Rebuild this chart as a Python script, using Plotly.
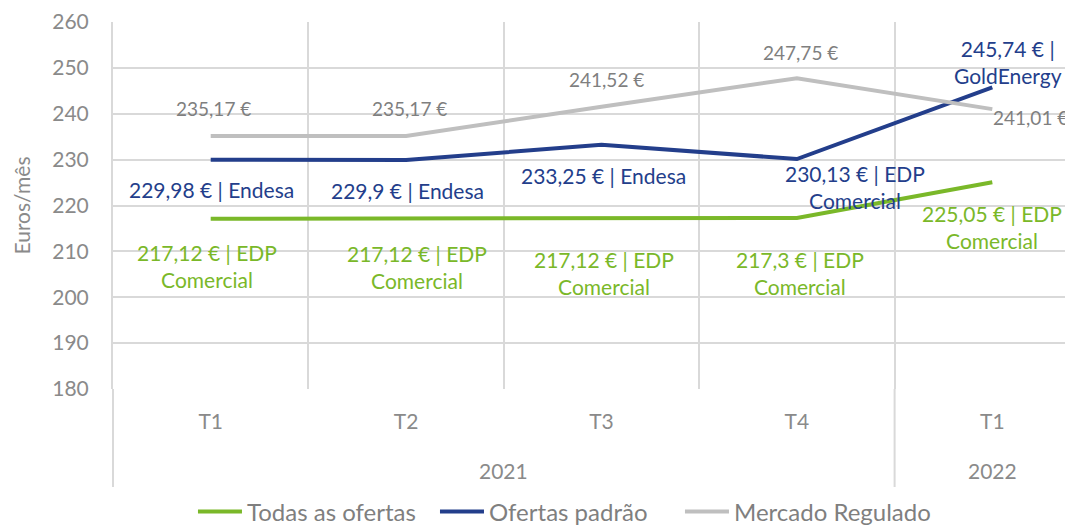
import plotly.graph_objects as go

# ---- data ----
years = ["2021", "2021", "2021", "2021", "2022"]
quarters = ["T1", "T2", "T3", "T4", "T1"]
todas = [217.12, 217.12, 217.12, 217.3, 225.05]
padrao = [229.98, 229.9, 233.25, 230.13, 245.74]
regulado = [235.17, 235.17, 241.52, 247.75, 241.01]
todas_comerc = ["EDP Comercial", "EDP Comercial", "EDP Comercial", "EDP Comercial", "EDP Comercial"]
padrao_comerc = ["Endesa", "Endesa", "Endesa", "EDP Comercial", "GoldEnergy"]
y_ticks = [180, 190, 200, 210, 220, 230, 240, 250, 260]

# ---- style ----
GREEN = "#7AB829"
BLUE = "#233E8B"
GRAY = "#BFBFBF"
GRAY_TXT = "#7F7F7F"
TICK = "#8A8A8A"
GRID = "#D9D9D9"
FONT = "Lato"
XMAX = 4.413
PLOT_H = 367.0  # px height of plot area

idx = list(range(len(quarters)))

def fmt(v):
    return str(v).replace(".", ",")

def lbl(v, comp, split):
    if comp is None:
        return f"{fmt(v)} €"
    if split == "word":
        a, b = comp.split(" ", 1)
        return f"{fmt(v)} € | {a}<br>{b}"
    if split == "bar":
        return f"{fmt(v)} € |<br>{comp}"
    return f"{fmt(v)} € | {comp}"

def px(i):
    return (i + 0.5) / (XMAX + 0.5)

fig = go.Figure()
fig.add_trace(go.Scatter(x=idx, y=todas, mode="lines", name="Todas as ofertas",
                         line=dict(color=GREEN, width=4), legend="legend"))
fig.add_trace(go.Scatter(x=idx, y=padrao, mode="lines", name="Ofertas padrão",
                         line=dict(color=BLUE, width=4), legend="legend2"))
fig.add_trace(go.Scatter(x=idx, y=regulado, mode="lines", name="Mercado Regulado",
                         line=dict(color=GRAY, width=4), legend="legend3"))

# label offsets (dx, dy down) in px
off_todas = [(-4, 47), (11, 48), (3, 54), (3, 55), (0, 45)]
off_padrao = [(1, 30), (1, 30), (2, 31), (58, 28), (16, -25)]
off_reg = [(3, -27), (3, -27), (5, -27), (4, -26), (38, 8)]
split_padrao = [None, None, None, "word", "bar"]

anns = []
for i in idx:
    anns.append(dict(x=px(i), xref="paper", y=todas[i], yref="y",
                     text=lbl(todas[i], todas_comerc[i], "word"),
                     xshift=off_todas[i][0], yshift=-off_todas[i][1],
                     font=dict(color=GREEN, size=21, family=FONT)))
    anns.append(dict(x=px(i), xref="paper", y=padrao[i], yref="y",
                     text=lbl(padrao[i], padrao_comerc[i], split_padrao[i] or "none"),
                     xshift=off_padrao[i][0], yshift=-off_padrao[i][1],
                     font=dict(color=BLUE, size=21, family=FONT)))
    anns.append(dict(x=px(i), xref="paper", y=regulado[i], yref="y",
                     text=lbl(regulado[i], None, None),
                     xshift=off_reg[i][0], yshift=-off_reg[i][1],
                     font=dict(color=GRAY_TXT, size=19, family=FONT)))

# year group labels + dividers (outer level of the category axis)
groups = []
for i, yv in enumerate(years):
    if not groups or groups[-1][0] != yv:
        groups.append([yv, i, i])
    else:
        groups[-1][2] = i
shapes = []
for g, a, b in groups:
    anns.append(dict(x=px((a + b) / 2), xref="paper", y=-81 / PLOT_H, yref="paper",
                     text=g, font=dict(color=TICK, size=21, family=FONT)))
bounds = sorted(set([g[1] - 0.5 for g in groups] + [g[2] + 0.5 for g in groups]))
for bnd in bounds:
    shapes.append(dict(type="line", xref="paper", yref="paper",
                       x0=px(bnd), x1=px(bnd), y0=-98 / PLOT_H, y1=0,
                       line=dict(color=GRID, width=2)))

for a in anns:
    a.update(showarrow=False, xanchor="center", yanchor="middle")

def legend_at(x):
    return dict(orientation="h", x=x, xanchor="left", y=-123 / PLOT_H, yanchor="middle",
                font=dict(size=24, color="#7F7F7F", family=FONT), bgcolor="rgba(0,0,0,0)",
                itemwidth=44)

# page body has an 8px margin, so the figure is 8px smaller than the window
fig.update_layout(
    width=1065, height=517,
    margin=dict(l=105, r=0, t=14, b=136, autoexpand=False),
    paper_bgcolor="white", plot_bgcolor="white",
    font=dict(family=FONT, color=TICK, size=21),
    annotations=anns,
    shapes=shapes,
    showlegend=True,
    legend=legend_at(0.0833),
    legend2=legend_at(0.3354),
    legend3=legend_at(0.5906),
    xaxis=dict(range=[-0.5, XMAX], tickvals=idx, ticktext=quarters,
               showgrid=False, zeroline=False, showline=False, automargin=False,
               ticks="", ticklabelstandoff=18,
               tickfont=dict(size=21, color=TICK, family=FONT),
               minor=dict(tickvals=[i - 0.5 for i in idx] + [idx[-1] + 0.5],
                          showgrid=True, gridcolor=GRID, gridwidth=2, ticks="")),
    yaxis=dict(range=[180, 260], tickvals=y_ticks, showgrid=True, gridcolor=GRID, gridwidth=2,
               showline=True, linecolor=GRID, linewidth=2, zeroline=False, automargin=False,
               ticks="", ticklabelstandoff=18,
               tickfont=dict(size=21, color=TICK, family=FONT),
               title=dict(text="Euros/mês", font=dict(size=21, color=TICK, family=FONT), standoff=16)),
)

fig.write_html("out.html")
